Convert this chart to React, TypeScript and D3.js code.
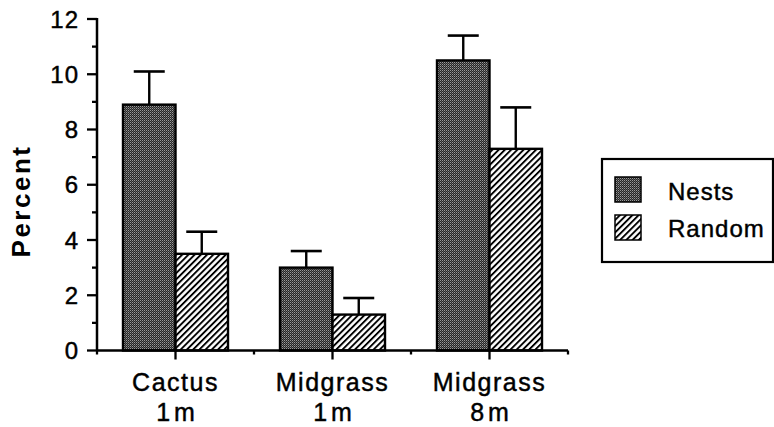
import React from "react";
import * as d3 from "d3";

const categories = ["Cactus|1 m", "Midgrass|1 m", "Midgrass|8 m"];
const seriesNames = ["Nests", "Random"];
const nestsValues = [8.9, 3.0, 10.5];
const nestsErrors = [10.1, 3.6, 11.4];
const randomValues = [3.5, 1.3, 7.3];
const randomErrors = [4.3, 1.9, 8.8];
const yTicks = [0, 2, 4, 6, 8, 10, 12];
const yMinorTicks = [1, 3, 5, 7, 9, 11];

const FONT = "'Liberation Sans', Arial, Helvetica, sans-serif";

export default function App() {
  const W = 774, H = 427;
  const x0 = 97, x1 = 568, yBase = 350.5, yTop = 19;
  const x = d3.scaleBand<string>().domain(categories).range([x0, x1]).paddingInner(0).paddingOuter(0);
  const bw = x.bandwidth();
  const xs = d3.scaleBand<string>().domain(seriesNames).range([bw / 2 - 52.5, bw / 2 + 52.5]).padding(0);
  const y = d3.scaleLinear().domain([0, 12]).range([yBase, yTop]);

  const series = [
    { name: "Nests", values: nestsValues, errs: nestsErrors, fill: "url(#stipple)" },
    { name: "Random", values: randomValues, errs: randomErrors, fill: "url(#hatch)" },
  ];

  const boundaries = [x0, ...categories.map((c) => (x(c) as number) + bw)];
  const txt = { stroke: "#000", strokeWidth: 0.45 };

  return (
    <svg width={W} height={H} style={{ position: "absolute", left: 0, top: 0, background: "#fff" }} fontFamily={FONT}>
      <defs>
        <pattern id="stipple" patternUnits="userSpaceOnUse" width={2} height={2}>
          <rect width={2} height={2} fill="#262626" />
          <rect x={0} y={0} width={1} height={1} fill="#9a9a9a" />
          <rect x={1} y={1} width={1} height={1} fill="#5e5e5e" />
        </pattern>
        <pattern id="hatch" patternUnits="userSpaceOnUse" width={4.4} height={4.4} patternTransform="rotate(45)">
          <rect width={4.4} height={4.4} fill="#fff" />
          <rect x={0} y={0} width={1.9} height={4.4} fill="#000" />
        </pattern>
      </defs>

      {/* bars */}
      {series.map((s) =>
        categories.map((c, i) => {
          const bx = (x(c) as number) + (xs(s.name) as number);
          const w = xs.bandwidth();
          const cx = bx + w / 2;
          return (
            <g key={s.name + c}>
              <line x1={cx} x2={cx} y1={y(s.values[i])} y2={y(s.errs[i])} stroke="#000" strokeWidth={2.4} />
              <line x1={cx - 15.5} x2={cx + 15.5} y1={y(s.errs[i])} y2={y(s.errs[i])} stroke="#000" strokeWidth={2.6} />
              <rect x={bx} y={y(s.values[i])} width={w} height={yBase - y(s.values[i])} fill={s.fill} stroke="#000" strokeWidth={2.4} />
            </g>
          );
        })
      )}

      {/* y axis */}
      <line x1={x0} x2={x0} y1={yTop - 1} y2={yBase} stroke="#000" strokeWidth={2.5} />
      {yTicks.map((t) => (
        <g key={"t" + t}>
          <line x1={x0 - 10} x2={x0} y1={y(t)} y2={y(t)} stroke="#000" strokeWidth={2.3} />
          <text x={79} y={y(t)} dy="0.36em" textAnchor="end" fontSize={24} letterSpacing={1} {...txt}>{t}</text>
        </g>
      ))}
      {yMinorTicks.map((t) => (
        <line key={"m" + t} x1={x0 - 5} x2={x0} y1={y(t)} y2={y(t)} stroke="#000" strokeWidth={2.3} />
      ))}
      <text transform={`translate(30,201) rotate(-90)`} textAnchor="middle" fontSize={26} fontWeight="bold" letterSpacing={2.5}>Percent</text>

      {/* x axis */}
      <line x1={x0} x2={x1} y1={yBase} y2={yBase} stroke="#000" strokeWidth={2.5} />
      {boundaries.map((b, i) => (
        <line key={"b" + i} x1={b} x2={b} y1={yBase} y2={yBase + 4} stroke="#000" strokeWidth={2.3} />
      ))}
      {categories.map((c) => {
        const cx = (x(c) as number) + bw / 2;
        const [l1, l2] = c.split("|");
        return (
          <g key={"c" + c}>
            <line x1={cx} x2={cx} y1={yBase} y2={yBase + 9} stroke="#000" strokeWidth={2.3} />
            <text x={cx} y={391} textAnchor="middle" fontSize={25} letterSpacing={1.5} {...txt}>{l1}</text>
            <text x={cx} y={421} textAnchor="middle" fontSize={25} wordSpacing={-3} {...txt}>{l2}</text>
          </g>
        );
      })}

      {/* legend */}
      <rect x={602} y={159} width={171} height={103} fill="none" stroke="#000" strokeWidth={2.2} />
      {series.map((s, i) => (
        <g key={"l" + s.name}>
          <rect x={615} y={177 + i * 38} width={26} height={25} fill={s.fill} stroke="#000" strokeWidth={1.5} />
          <text x={668} y={200 + i * 37} fontSize={24} letterSpacing={1} {...txt}>{s.name}</text>
        </g>
      ))}
    </svg>
  );
}
